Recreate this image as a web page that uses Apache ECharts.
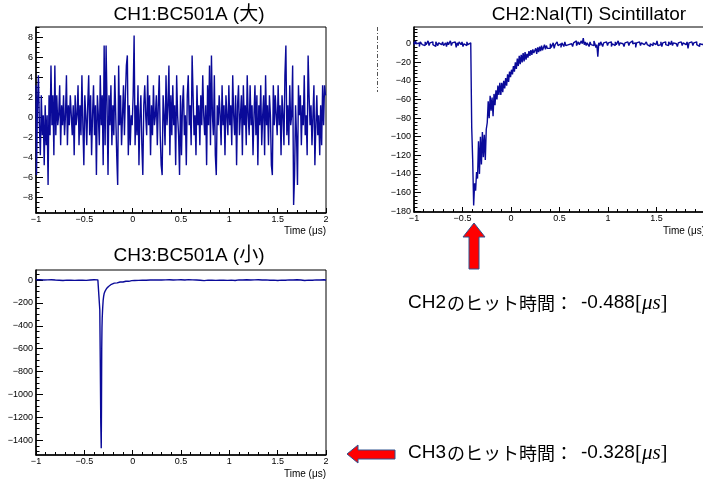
<!DOCTYPE html>
<html><head><meta charset="utf-8">
<script src="https://cdn.jsdelivr.net/npm/echarts@6/dist/echarts.min.js"></script>
<style>html,body{margin:0;padding:0;background:#fff}#c{width:703px;height:481px}</style>
</head><body><div id="c"></div><script>
// ---------- data ----------
const xTicks = [-1, -0.5, 0, 0.5, 1, 1.5, 2];
const ch1YTicks = [-8, -6, -4, -2, 0, 2, 4, 6, 8];
const ch2YTicks = [0, -20, -40, -60, -80, -100, -120, -140, -160, -180];
const ch3YTicks = [0, -200, -400, -600, -800, -1000, -1200, -1400];
const sampleStart = -1;     // us
const sampleStep = 0.01;    // us

// CH1: BC501A (large) - noise only
const ch1Amp = [
 3.2,-5.8,1.2,4.2,-0.8,-3.8,2.2,-1.8,0.2,-4.8,
 1.2,-2.8,0.2,-6.8,2.2,-1.8,5.2,-0.8,2.2,-3.8,
 5.2,-1.8,2.2,-0.8,0.2,3.2,-2.8,1.2,-0.8,2.2,
 -1.8,0.2,4.2,-2.8,1.2,-0.8,2.2,0.2,-1.8,1.2,
 -3.8,2.2,-0.8,0.2,3.2,-2.8,1.2,-1.8,4.2,-0.8,
 -4.8,2.2,0.2,-2.8,1.2,4.2,-1.8,2.2,-3.8,0.2,
 3.2,-1.8,1.2,-5.8,2.2,0.2,-2.8,4.2,-0.8,2.2,
 -4.8,7.2,-2.8,7.2,1.2,-5.8,2.2,-0.8,3.2,-2.8,
 1.2,-1.8,4.2,0.2,-3.8,-6.8,5.2,-0.8,2.2,-2.8,
 0.2,3.2,-1.8,2.2,5.2,6.2,-3.8,1.2,-2.8,0.2,
 -0.8,2.2,8.2,-2.8,1.2,-1.8,3.2,-4.8,0.2,2.2,
 -2.8,-5.8,1.2,3.2,0.2,-1.8,4.2,-0.8,2.2,-3.8,
 1.2,-1.8,3.2,-0.8,0.2,2.2,-2.8,1.2,4.2,-1.8,
 -4.8,-5.8,2.2,0.2,-2.8,4.2,-0.8,1.2,5.2,-3.8,
 2.2,-1.8,3.2,-0.8,1.2,-4.8,4.2,0.2,-1.8,-5.8,
 2.2,-3.8,1.2,3.2,-1.8,0.2,-4.8,2.2,4.2,-0.8,
 1.2,-2.8,6.2,2.2,-1.8,0.2,-3.8,3.2,-0.8,1.2,
 -2.8,2.2,-0.8,4.2,0.2,-1.8,1.2,-4.8,3.2,-0.8,
 5.2,-2.8,6.2,0.2,-1.8,4.2,-3.8,-5.8,1.2,-0.8,
 2.2,0.2,-2.8,3.2,-0.8,1.2,-3.8,2.2,0.2,-1.8,
 3.2,-0.8,1.2,-2.8,4.2,0.2,-1.8,2.2,-4.8,1.2,
 3.2,-1.8,0.2,2.2,-3.8,3.2,-0.8,1.2,-2.8,4.2,
 0.2,-1.8,3.2,-0.8,1.2,-3.8,0.2,3.2,-1.8,2.2,
 -4.8,1.2,-0.8,3.2,-2.8,0.2,2.2,-3.8,4.2,-0.8,
 1.2,-2.8,2.2,0.2,-4.8,-5.8,3.2,-0.8,2.2,0.2,
 -1.8,3.2,-0.8,1.2,-3.8,2.2,0.2,-2.8,4.2,7.2,
 -1.8,1.2,-2.8,3.2,-0.8,0.2,5.2,-8.8,-5.8,1.2,
 -1.8,-6.8,3.2,0.2,2.2,-2.8,1.2,-0.8,4.2,-1.8,
 0.2,-3.8,6.2,2.2,-0.8,1.2,-2.8,0.2,3.2,-4.8,
 -0.8,2.2,-1.8,0.2,-3.8,1.2,-2.8,3.2,-0.8,3.2,
 2.2
];

// CH2: NaI(Tl) scintillator
const ch2Amp = [
 2,-1,3,0,-2,1,-3,2,0,-1,
 1,-2,2,-1,0,3,-2,1,-1,2,
 -1,1,-3,2,0,-2,1,3,-1,0,
 2,-2,0,1,-3,2,-1,0,3,-2,
 1,-1,2,0,-4,1,-2,2,0,-1,
 2,-3,0,1,-2,2,-1,-3,1,2,
 -90,-125,-174,-150,-158,-138,-145,-105,-140,-100,
 -130,-95,-122,-98,-125,-92,-85,-62,-80,-56,
 -72,-58,-78,-54,-66,-50,-60,-45,-55,-42,
 -55,-42,-52,-40,-48,-37,-45,-33,-41,-30,
 -36,-28,-33,-24,-30,-20,-27,-16,-24,-13,
 -22,-12,-20,-10,-19,-9,-17,-11,-15,-8,
 -13,-7,-12,-6,-10,-8,-5,-11,-4,-9,
 -3,-8,-2,-7,-5,-1,-6,-2,-5,-3,
 -5,0,-4,-2,1,-5,-1,-3,2,-2,
 -2,0,-4,1,-1,-3,2,-2,0,-1,
 1,-2,0,2,-3,1,-1,3,-2,0,
 2,-1,1,3,0,6,-1,2,-2,1,
 0,-3,2,-1,1,-2,3,0,-4,-1,
 -14,1,-2,2,0,-3,1,-1,2,0,
 -2,1,-1,2,-3,0,1,-2,2,-1,
 0,3,-2,1,-1,0,2,-3,1,-1,
 2,0,-2,1,-1,3,0,-2,1,-4,
 1,-1,2,0,-2,1,3,-1,0,-2,
 2,-1,1,-3,0,2,-2,1,0,-1,
 1,3,-2,0,-1,2,-3,1,0,2,
 -1,1,-2,2,0,-1,3,-2,1,-1,
 0,2,-3,1,-1,2,0,-2,1,3,
 -1,0,2,-5,1,-1,2,0,-2,1,
 0,2,-1,1,-3,0,2,-1,1,-2,
 1
];

// CH3: BC501A (small) - [time (us), amplitude]
const ch3Points = [
 [-1.00,3],[-0.98,-2],[-0.96,4],[-0.94,-3],[-0.92,1],[-0.90,-4],[-0.88,2],[-0.86,-1],[-0.84,3],[-0.82,-3],
 [-0.80,0],[-0.78,4],[-0.76,-2],[-0.74,1],[-0.72,-4],[-0.70,2],[-0.68,-1],[-0.66,3],[-0.64,-2],[-0.62,0],
 [-0.60,-3],[-0.58,2],[-0.56,-1],[-0.54,4],[-0.52,-2],[-0.50,1],[-0.48,-3],[-0.46,2],[-0.44,0],[-0.42,-2],
 [-0.40,3],[-0.38,-1],[-0.36,2],[-0.35,0],[-0.345,-4],[-0.34,-260],[-0.335,-720],[-0.33,-1250],[-0.325,-1470],
 [-0.3225,-1100],[-0.32,-600],[-0.3175,-420],[-0.315,-330],[-0.31,-240],[-0.305,-175],[-0.30,-140],
 [-0.295,-118],[-0.29,-104],[-0.285,-96],[-0.28,-88],[-0.27,-74],[-0.26,-64],[-0.25,-56],[-0.24,-48],
 [-0.23,-42],[-0.22,-37],[-0.21,-33],[-0.20,-30],[-0.19,-27],[-0.18,-29],[-0.17,-23],[-0.16,-25],
 [-0.15,-20],[-0.14,-22],[-0.13,-17],[-0.12,-20],[-0.11,-15],[-0.10,-17],[-0.09,-12],[-0.08,-15],
 [-0.07,-10],[-0.06,-13],[-0.05,-9],[-0.04,-11],[-0.03,-6],[-0.02,-9],[-0.01,-5],[0.00,-8],
 [0.02,-4],[0.04,-7],[0.06,-3],[0.08,-6],[0.10,-2],[0.12,-5],[0.14,-1],[0.16,-4],[0.18,0],[0.20,-3],
 [0.22,1],[0.24,-4],[0.26,2],[0.28,-2],[0.30,1],[0.32,-3],[0.34,2],[0.36,-1],[0.38,3],[0.40,-2],
 [0.42,0],[0.44,-4],[0.46,2],[0.48,-1],[0.50,3],[0.52,-3],[0.54,1],[0.56,-2],[0.58,4],[0.60,-1],
 [0.62,2],[0.64,-3],[0.66,0],[0.68,3],[0.70,-2],[0.72,1],[0.74,-5],[0.76,2],[0.78,-1],[0.80,3],
 [0.82,-2],[0.84,0],[0.86,-3],[0.88,2],[0.90,-1],[0.92,4],[0.94,-2],[0.96,1],[0.98,-3],[1.00,2],
 [1.02,-1],[1.04,3],[1.06,-4],[1.08,0],[1.10,2],[1.12,-2],[1.14,1],[1.16,-3],[1.18,3],[1.20,-1],
 [1.22,0],[1.24,-4],[1.26,2],[1.28,-2],[1.30,3],[1.32,-1],[1.34,1],[1.36,-3],[1.38,2],[1.40,0],
 [1.42,-2],[1.44,3],[1.46,-1],[1.48,1],[1.50,-4],[1.52,2],[1.54,-1],[1.56,3],[1.58,-2],[1.60,0],
 [1.62,2],[1.64,-3],[1.66,1],[1.68,-1],[1.70,3],[1.72,-2],[1.74,0],[1.76,2],[1.78,-4],[1.80,1],
 [1.82,-1],[1.84,3],[1.86,-2],[1.88,0],[1.90,2],[1.92,-3],[1.94,1],[1.96,-1],[1.98,3],[2.00,-2]
];

// ---------- helpers ----------
const toPairs = arr => arr.map((v, i) => [+(sampleStart + i * sampleStep).toFixed(3), v]);
const minorVals = (kFrom, kTo, step) => { const r = []; for (let k = kFrom; k <= kTo; k++) r.push(+(k * step).toFixed(4)); return r; };
const fmt = v => String(v).replace('-', '\u2212');
const LAT = '"Liberation Sans", Arial, Helvetica, sans-serif';
const CJK = '"Noto Sans CJK JP", "Liberation Sans", sans-serif';
const MIX = '"Liberation Sans", "Noto Sans CJK JP", sans-serif';
const SERIF = '"Liberation Serif", "DejaVu Serif", serif';
const lineColor = '#0a0a99';

const grids = [
  { left: 36, top: 27, width: 290, height: 186 },
  { left: 414, top: 27, width: 291, height: 185 },
  { left: 36, top: 270, width: 290, height: 185 }
];
const yRanges = [[-9.6, 9.05], [-181, 18], [-1530, 88]];
const yMajor = [ch1YTicks, ch2YTicks, ch3YTicks];
const yMinor = [minorVals(-19, 18, 0.5), minorVals(-45, 4, 4), minorVals(-30, 1, 50)];

const xAxes = grids.map((g, i) => ({
  type: 'value', gridIndex: i, min: xTicks[0], max: xTicks[xTicks.length - 1], interval: 0.5,
  axisLine: { show: true, onZero: false, lineStyle: { color: '#000', width: 1.5 } },
  axisTick: { show: true, inside: true, length: 5, lineStyle: { color: '#000', width: 1 } },
  minorTick: { show: true, splitNumber: 5, length: 3, lineStyle: { color: '#000', width: 1 } },
  axisLabel: { show: true, margin: 2, fontSize: 9, color: '#000', fontFamily: LAT, formatter: fmt,
               showMinLabel: true, showMaxLabel: true, hideOverlap: false },
  splitLine: { show: false }, minorSplitLine: { show: false }
}));

const yAxes = [];
grids.forEach((g, i) => {
  yAxes.push({
    type: 'value', gridIndex: i, position: 'left', min: yRanges[i][0], max: yRanges[i][1],
    axisLine: { show: true, onZero: false, lineStyle: { color: '#000', width: 1.5 } },
    axisTick: { show: true, inside: true, length: 7, customValues: yMajor[i], lineStyle: { color: '#000', width: 1 } },
    axisLabel: { show: true, margin: 3, fontSize: 9, color: '#000', fontFamily: LAT, customValues: yMajor[i], formatter: fmt },
    splitLine: { show: false }
  });
  yAxes.push({
    type: 'value', gridIndex: i, position: 'left', offset: 0, min: yRanges[i][0], max: yRanges[i][1],
    axisLine: { show: false, onZero: false },
    axisTick: { show: true, inside: true, length: 3.5, customValues: yMinor[i], lineStyle: { color: '#000', width: 1 } },
    axisLabel: { show: false },
    splitLine: { show: false }
  });
});

const mkSeries = (data, i, step) => ({
  type: 'line', xAxisIndex: i, yAxisIndex: i * 2, data: data, step: step,
  symbol: 'none', showSymbol: false, clip: true, silent: true,
  lineStyle: { color: lineColor, width: 1.4 }
});

const txt = (x, y, text, size, align) => ({
  type: 'text', x: x, y: y, silent: true,
  style: { text: text, fontSize: size, fontFamily: MIX, fill: '#000', align: align || 'center', verticalAlign: 'middle' }
});

const hitText = (y, ch, val) => ({
  type: 'text', x: 408, y: y, silent: true,
  style: {
    text: '{l|' + ch + '}{j|のヒット時間：}{l|' + val + '}{m|[}{i|μs}{m|]}',
    align: 'left', verticalAlign: 'middle',
    rich: {
      l: { fontSize: 19, fontFamily: LAT, fill: '#000' },
      j: { fontSize: 18, fontFamily: CJK, fill: '#000', padding: [0, 8, 0, 1] },
      m: { fontSize: 21, fontFamily: SERIF, fill: '#000' },
      i: { fontSize: 21, fontStyle: 'italic', fontFamily: SERIF, fill: '#000' }
    }
  }
});

const option = {
  animation: false,
  backgroundColor: '#fff',
  grid: grids.map(g => Object.assign({ show: true, borderColor: '#000', borderWidth: 1, backgroundColor: 'transparent', containLabel: false, outerBoundsMode: 'none' }, g)),
  xAxis: xAxes,
  yAxis: yAxes,
  series: [
    mkSeries(toPairs(ch1Amp), 0, 'middle'),
    mkSeries(toPairs(ch2Amp), 1, 'middle'),
    mkSeries(ch3Points, 2, false)
  ],
  graphic: [
    txt(189, 15, 'CH1:BC501A (大)', 19),
    txt(589, 15, 'CH2:NaI(Tl) Scintillator', 19),
    txt(189, 256, 'CH3:BC501A (小)', 19),
    txt(326, 231, 'Time (μs)', 10, 'right'),
    txt(705, 231, 'Time (μs)', 10, 'right'),
    txt(326, 474, 'Time (μs)', 10, 'right'),
    { type: 'line', silent: true, shape: { x1: 377.5, y1: 27, x2: 377.5, y2: 92 },
      style: { stroke: '#555', lineWidth: 1, lineDash: [4, 2, 1, 2] } },
    { type: 'polygon', silent: true,
      shape: { points: [[474, 223], [485, 237], [479, 237], [479, 269], [469, 269], [469, 237], [463, 237]] },
      style: { fill: '#ff0000', stroke: '#2f528f', lineWidth: 1 } },
    { type: 'polygon', silent: true,
      shape: { points: [[347, 454], [358, 445], [358, 450], [395, 450], [395, 459], [358, 459], [358, 463]] },
      style: { fill: '#ff0000', stroke: '#2f528f', lineWidth: 1 } },
    hitText(303, 'CH2', '-0.488'),
    hitText(453, 'CH3', '-0.328')
  ]
};

const chart = echarts.init(document.getElementById('c'), null, { renderer: 'canvas' });
chart.setOption(option);
</script></body></html>
